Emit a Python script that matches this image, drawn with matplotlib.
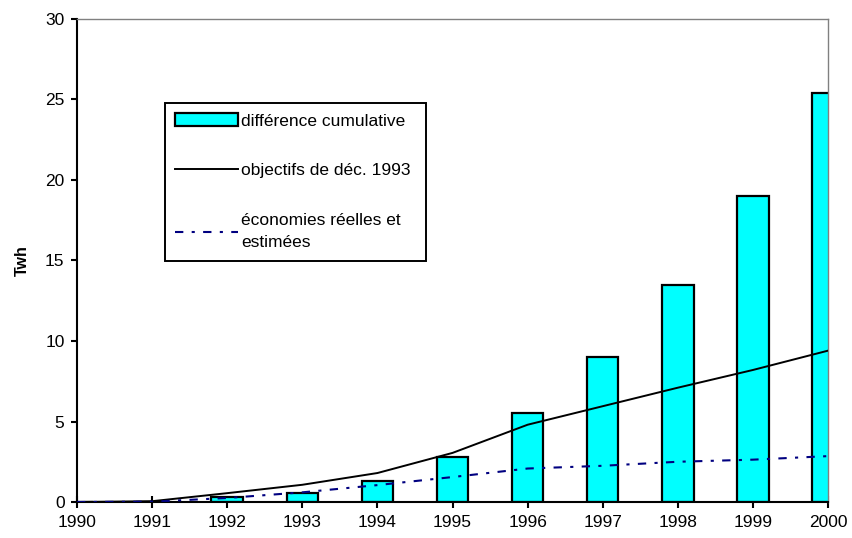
"""
Économies d'électricité : objectifs vs économies réelles, 1990-2000
"""

import matplotlib.pyplot as plt
from matplotlib.patches import Patch
from matplotlib.lines import Line2D

plt.rcParams['font.family'] = ['Liberation Sans', 'DejaVu Sans']

years = [1990, 1991, 1992, 1993, 1994, 1995, 1996, 1997, 1998, 1999, 2000]
year_labels = [str(y) for y in years]

# difference cumulative (Twh)
cumulative_diff = [0.0, 0.0, 0.3, 0.55, 1.3, 2.8, 5.5, 9.0, 13.5, 19.0, 25.4]
# objectifs de dec. 1993
targets_1993 = [0.0, 0.05, 0.55, 1.07, 1.8, 3.05, 4.8, 5.95, 7.1, 8.2, 9.4]
# economies reelles et estimees
actual_savings = [0.0, 0.02, 0.25, 0.6, 1.05, 1.55, 2.08, 2.25, 2.5, 2.63, 2.85]

y_ticks = [0, 5, 10, 15, 20, 25, 30]

CYAN = '#00ffff'
NAVY = '#000080'
DOTS = (0, (4, 4, 1.5, 4))

fig = plt.figure(figsize=(8.53, 5.38), dpi=100)
ax = fig.add_axes([0.0903, 0.0669, 0.8804, 0.8978])

ax.bar(years, cumulative_diff, width=0.42, color=CYAN,
       edgecolor='black', linewidth=1.6, zorder=2)
ax.plot(years, targets_1993, color='black', linewidth=1.4, zorder=3)
ax.plot(years, actual_savings, color=NAVY, linewidth=1.5,
        linestyle=DOTS, zorder=3)

ax.set_xlim(1990, 2000)
ax.set_ylim(0, 30)
ax.set_xticks(years)
ax.set_xticklabels(year_labels)
ax.set_yticks(y_ticks)

ax.tick_params(axis='x', direction='inout', length=9, width=1.5,
               labelsize=12.5, pad=5)
ax.tick_params(axis='y', direction='out', length=4, width=1.5,
               labelsize=12.5, pad=5)

for side in ('left', 'bottom'):
    ax.spines[side].set_linewidth(1.5)
    ax.spines[side].set_color('black')
for side in ('top', 'right'):
    ax.spines[side].set_linewidth(1.0)
    ax.spines[side].set_color('#808080')

ax.set_ylabel('Twh', fontsize=11.5, fontweight='bold', labelpad=11)

handles = [
    Patch(facecolor=CYAN, edgecolor='black', linewidth=1.6),
    Line2D([], [], color='black', linewidth=1.4),
    Line2D([], [], color=NAVY, linewidth=1.5, linestyle=DOTS),
]
labels = ['différence cumulative  ', 'objectifs de déc. 1993',
          'économies réelles et\nestimées']
leg = ax.legend(handles, labels, loc='upper left',
                bbox_to_anchor=(0.117, 0.826), borderaxespad=0,
                fontsize=12.5, handlelength=3.6, handletextpad=0.2,
                labelspacing=2.0, borderpad=0.6, fancybox=False,
                framealpha=1, edgecolor='black')
leg.get_frame().set_linewidth(1.4)
for t in leg.get_texts():
    t.set_linespacing(1.6)

fig.savefig('out.png', dpi=100)
